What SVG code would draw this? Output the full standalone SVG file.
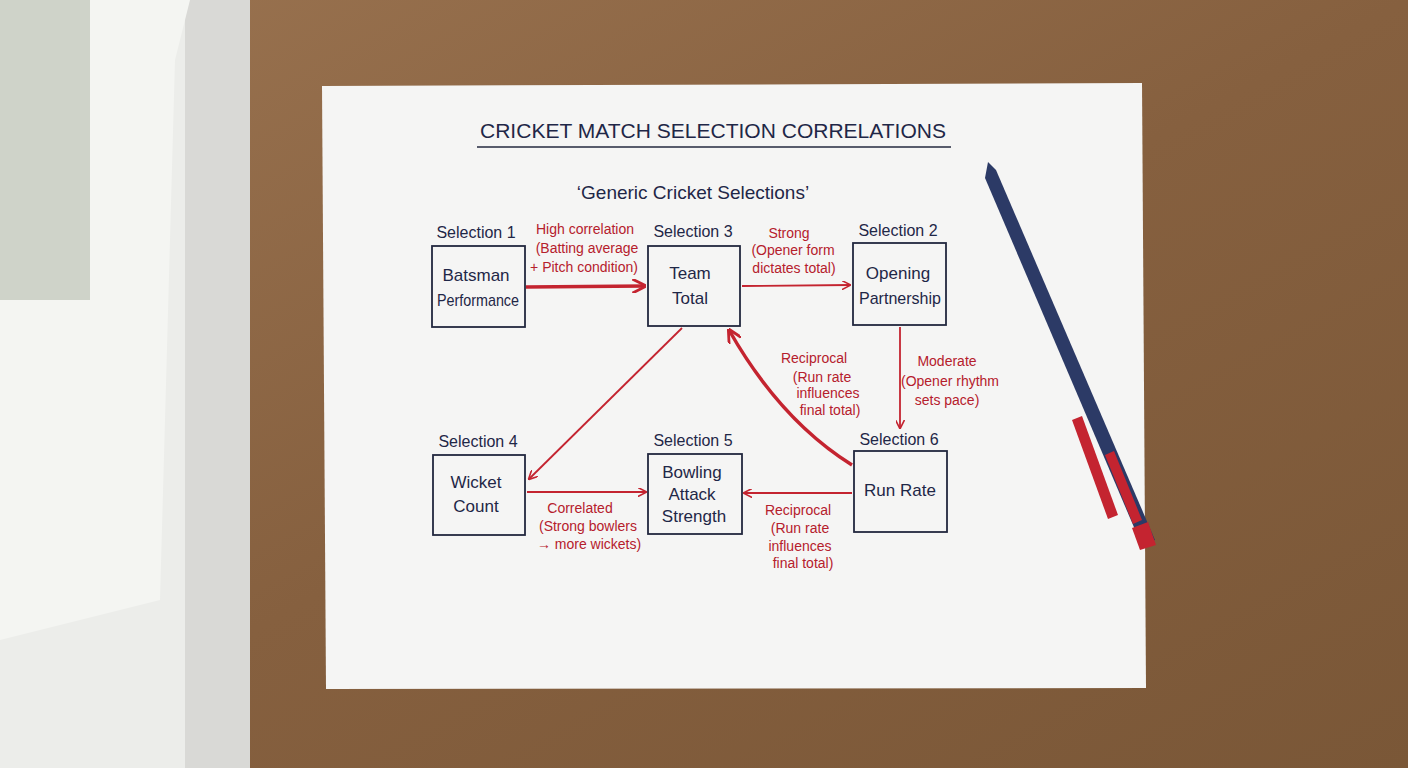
<svg xmlns="http://www.w3.org/2000/svg" width="1408" height="768" viewBox="0 0 1408 768">
<defs>
<style>
.n{fill:none;stroke:#23283f;stroke-width:1.8}
.t{font-family:"Liberation Sans",Arial,sans-serif;fill:#1f2747;text-anchor:middle}
.lb{font-size:16px}
.nd{font-size:17px}
.r{font-family:"Liberation Sans",Arial,sans-serif;fill:#b5202c;text-anchor:middle;font-size:14px}
.c{fill:none;stroke:#c42430;stroke-width:1.8}
.ct{fill:none;stroke:#c42430;stroke-width:3.5}
</style>
<marker id="a" viewBox="0 0 10 10" refX="9" refY="5" markerWidth="9" markerHeight="9" markerUnits="userSpaceOnUse" orient="auto"><path d="M0,0 L10,5 L0,10" fill="none" stroke="#c42430" stroke-width="1.8"/></marker>
<marker id="b" viewBox="0 0 10 10" refX="9" refY="5" markerWidth="14" markerHeight="14" markerUnits="userSpaceOnUse" orient="auto"><path d="M0,0 L10,5 L0,10" fill="none" stroke="#c42430" stroke-width="2"/></marker>
<linearGradient id="w" x1="0" y1="0" x2="1" y2="1"><stop offset="0" stop-color="#9a7350"/><stop offset="0.5" stop-color="#86603f"/><stop offset="1" stop-color="#7a5737"/></linearGradient>
</defs>
<rect width="1408" height="768" fill="url(#w)"/>
<rect x="0" y="0" width="250" height="768" fill="#d9d9d6"/>
<rect x="0" y="0" width="185" height="768" fill="#ecedea"/>
<path d="M0,0 L190,0 L175,60 L160,600 L0,640 Z" fill="#f4f5f2"/>
<rect x="0" y="0" width="90" height="300" fill="#cfd3c9"/>
<polygon points="322,86 1142,83 1146,688 326,689" fill="#f5f5f4"/>
<g id="title">
<text class="t" x="713" y="138" font-size="21" textLength="466" lengthAdjust="spacingAndGlyphs">CRICKET MATCH SELECTION CORRELATIONS</text>
<line x1="477" y1="147" x2="951" y2="147" stroke="#23283f" stroke-width="1.5"/>
<text class="t" x="693" y="199" font-size="19">‘Generic Cricket Selections’</text>
</g>
<g id="connectors">
<line class="ct" x1="526" y1="287" x2="645" y2="286" marker-end="url(#b)"/>
<line class="c" x1="742" y1="286" x2="850" y2="285" marker-end="url(#a)"/>
<line class="c" x1="900" y1="327" x2="900" y2="428" marker-end="url(#a)"/>
<path class="ct" d="M852,465 Q780,420 729,330" marker-end="url(#b)"/>
<line class="c" x1="682" y1="328" x2="529" y2="479" marker-end="url(#a)"/>
<line class="c" x1="852" y1="493" x2="744" y2="493" marker-end="url(#a)"/>
<line class="c" x1="527" y1="492" x2="646" y2="492" marker-end="url(#a)"/>
<text class="r" x="585" y="234">High correlation</text>
<text class="r" x="587" y="253">(Batting average</text>
<text class="r" x="584" y="272">+ Pitch condition)</text>
<text class="r" x="789" y="238">Strong</text>
<text class="r" x="793" y="255">(Opener form</text>
<text class="r" x="794" y="273">dictates total)</text>
<text class="r" x="947" y="366">Moderate</text>
<text class="r" x="950" y="386">(Opener rhythm</text>
<text class="r" x="947" y="405">sets pace)</text>
<text class="r" x="814" y="363">Reciprocal</text>
<text class="r" x="822" y="382">(Run rate</text>
<text class="r" x="828" y="398">influences</text>
<text class="r" x="830" y="415">final total)</text>
<text class="r" x="798" y="515">Reciprocal</text>
<text class="r" x="800" y="533">(Run rate</text>
<text class="r" x="800" y="551">influences</text>
<text class="r" x="803" y="568">final total)</text>
<text class="r" x="580" y="513">Correlated</text>
<text class="r" x="588" y="531">(Strong bowlers</text>
<text class="r" x="589" y="549">→ more wickets)</text>
</g>
<g id="s1"><text class="t lb" x="476" y="238">Selection 1</text><rect class="n" x="432" y="246" width="93" height="81"/><text class="t nd" x="476" y="281">Batsman</text><text class="t nd" x="478" y="306" textLength="82" lengthAdjust="spacingAndGlyphs">Performance</text></g>
<g id="s3"><text class="t lb" x="693" y="237">Selection 3</text><rect class="n" x="648" y="246" width="92" height="80"/><text class="t nd" x="690" y="279">Team</text><text class="t nd" x="690" y="304">Total</text></g>
<g id="s2"><text class="t lb" x="898" y="236">Selection 2</text><rect class="n" x="853" y="243" width="93" height="82"/><text class="t nd" x="898" y="279">Opening</text><text class="t nd" x="900" y="304" textLength="82" lengthAdjust="spacingAndGlyphs">Partnership</text></g>
<g id="s4"><text class="t lb" x="478" y="447">Selection 4</text><rect class="n" x="433" y="455" width="92" height="80"/><text class="t nd" x="476" y="488">Wicket</text><text class="t nd" x="476" y="512">Count</text></g>
<g id="s5"><text class="t lb" x="693" y="446">Selection 5</text><rect class="n" x="648" y="454" width="94" height="80"/><text class="t nd" x="692" y="478">Bowling</text><text class="t nd" x="692" y="500">Attack</text><text class="t nd" x="694" y="522">Strength</text></g>
<g id="s6"><text class="t lb" x="899" y="445">Selection 6</text><rect class="n" x="854" y="451" width="93" height="81"/><text class="t nd" x="900" y="496">Run Rate</text></g>
<g id="pen">
<path d="M988,162 L996,170 L1155,540 L1142,546 L985,178 Z" fill="#2c3a66"/>
<path d="M1072,420 L1082,416 L1118,515 L1108,519 Z" fill="#c42430"/>
<path d="M1105,455 L1114,451 L1142,520 L1133,524 Z" fill="#c42430"/>
<path d="M1132,528 L1148,522 L1156,545 L1140,550 Z" fill="#c42430"/>
</g>
</svg>
